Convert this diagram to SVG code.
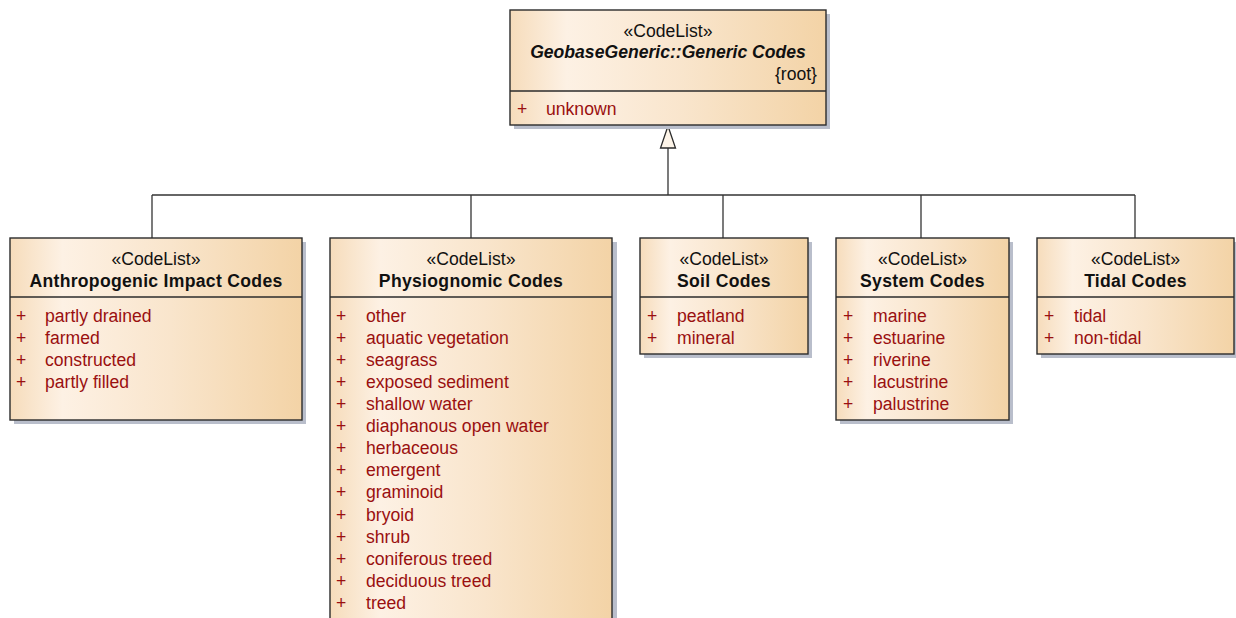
<svg xmlns="http://www.w3.org/2000/svg" width="1236" height="618" viewBox="0 0 1236 618">
<defs>
<linearGradient id="fill" x1="0" y1="0" x2="1" y2="0">
<stop offset="0" stop-color="#f6dcbb"/>
<stop offset="0.18" stop-color="#fdf1e4"/>
<stop offset="0.55" stop-color="#f9e5cc"/>
<stop offset="1" stop-color="#f3d3a6"/>
</linearGradient>
</defs>
<style>
.shadow{fill:#b9becb}
.box{fill:url(#fill);stroke:#2b2b2b;stroke-width:1.4}
.div{stroke:#2b2b2b;stroke-width:1.4}
text{font-family:"Liberation Sans",Arial,sans-serif;font-size:17.6px}
.st{text-anchor:middle;fill:#111}
.nm{text-anchor:middle;font-weight:bold;fill:#111;letter-spacing:0.3px}
.ti{text-anchor:middle;font-weight:bold;font-style:italic;fill:#111}
.it{fill:#9a1010}
.conn{stroke:#333;stroke-width:1.3;fill:none}
</style>
<rect width="1236" height="618" fill="#ffffff"/>

<g id="connectors">
<polyline class="conn" points="668,148 668,195"/>
<polyline class="conn" points="152,195 1135,195"/>
<polyline class="conn" points="152,195 152,238"/>
<polyline class="conn" points="471,195 471,238"/>
<polyline class="conn" points="723,195 723,238"/>
<polyline class="conn" points="921,195 921,238"/>
<polyline class="conn" points="1135,195 1135,238"/>
<polygon points="668,126 660.5,148 675.5,148" fill="#fdf4e8" stroke="#2b2b2b" stroke-width="1.3"/>
</g>

<g id="generic">
<rect class="shadow" x="514" y="14" width="316" height="115"/>
<rect class="box" x="510" y="10" width="316" height="115"/>
<line class="div" x1="510" y1="91" x2="826" y2="91"/>
<text class="st" x="668" y="37">«CodeList»</text>
<text class="ti" x="668" y="58">GeobaseGeneric::Generic Codes</text>
<text x="817" y="80" text-anchor="end" fill="#111">{root}</text>
<text class="it" x="517" y="115">+</text>
<text class="it" x="546" y="115">unknown</text>
</g>

<g id="anthropogenic">
<rect class="shadow" x="14" y="242" width="292" height="182"/>
<rect class="box" x="10" y="238" width="292" height="182"/>
<line class="div" x1="10" y1="297" x2="302" y2="297"/>
<text class="st" x="156" y="265">«CodeList»</text>
<text class="nm" x="156" y="287">Anthropogenic Impact Codes</text>
<text class="it" x="16" y="322">+</text><text class="it" x="45" y="322">partly drained</text>
<text class="it" x="16" y="344">+</text><text class="it" x="45" y="344">farmed</text>
<text class="it" x="16" y="366">+</text><text class="it" x="45" y="366">constructed</text>
<text class="it" x="16" y="388">+</text><text class="it" x="45" y="388">partly filled</text>
</g>

<g id="physiognomic">
<rect class="shadow" x="334" y="242" width="283" height="400"/>
<rect class="box" x="330" y="238" width="282" height="400"/>
<line class="div" x1="330" y1="297" x2="612" y2="297"/>
<text class="st" x="471" y="265">«CodeList»</text>
<text class="nm" x="471" y="287">Physiognomic Codes</text>
<text class="it" x="336" y="322">+</text><text class="it" x="366" y="322">other</text>
<text class="it" x="336" y="344">+</text><text class="it" x="366" y="344">aquatic vegetation</text>
<text class="it" x="336" y="366">+</text><text class="it" x="366" y="366">seagrass</text>
<text class="it" x="336" y="388">+</text><text class="it" x="366" y="388">exposed sediment</text>
<text class="it" x="336" y="410">+</text><text class="it" x="366" y="410">shallow water</text>
<text class="it" x="336" y="432">+</text><text class="it" x="366" y="432">diaphanous open water</text>
<text class="it" x="336" y="454">+</text><text class="it" x="366" y="454">herbaceous</text>
<text class="it" x="336" y="476">+</text><text class="it" x="366" y="476">emergent</text>
<text class="it" x="336" y="498">+</text><text class="it" x="366" y="498">graminoid</text>
<text class="it" x="336" y="521">+</text><text class="it" x="366" y="521">bryoid</text>
<text class="it" x="336" y="543">+</text><text class="it" x="366" y="543">shrub</text>
<text class="it" x="336" y="565">+</text><text class="it" x="366" y="565">coniferous treed</text>
<text class="it" x="336" y="587">+</text><text class="it" x="366" y="587">deciduous treed</text>
<text class="it" x="336" y="609">+</text><text class="it" x="366" y="609">treed</text>
</g>

<g id="soil">
<rect class="shadow" x="644" y="242" width="168" height="116"/>
<rect class="box" x="640" y="238" width="168" height="116"/>
<line class="div" x1="640" y1="297" x2="808" y2="297"/>
<text class="st" x="724" y="265">«CodeList»</text>
<text class="nm" x="724" y="287">Soil Codes</text>
<text class="it" x="647" y="322">+</text><text class="it" x="677" y="322">peatland</text>
<text class="it" x="647" y="344">+</text><text class="it" x="677" y="344">mineral</text>
</g>

<g id="system">
<rect class="shadow" x="840" y="242" width="173" height="182"/>
<rect class="box" x="836" y="238" width="173" height="182"/>
<line class="div" x1="836" y1="297" x2="1009" y2="297"/>
<text class="st" x="922.5" y="265">«CodeList»</text>
<text class="nm" x="922.5" y="287">System Codes</text>
<text class="it" x="843" y="322">+</text><text class="it" x="873" y="322">marine</text>
<text class="it" x="843" y="344">+</text><text class="it" x="873" y="344">estuarine</text>
<text class="it" x="843" y="366">+</text><text class="it" x="873" y="366">riverine</text>
<text class="it" x="843" y="388">+</text><text class="it" x="873" y="388">lacustrine</text>
<text class="it" x="843" y="410">+</text><text class="it" x="873" y="410">palustrine</text>
</g>

<g id="tidal">
<rect class="shadow" x="1041" y="242" width="198" height="116"/>
<rect class="box" x="1037" y="238" width="197" height="116"/>
<line class="div" x1="1037" y1="297" x2="1234" y2="297"/>
<text class="st" x="1135.5" y="265">«CodeList»</text>
<text class="nm" x="1135.5" y="287">Tidal Codes</text>
<text class="it" x="1044" y="322">+</text><text class="it" x="1074" y="322">tidal</text>
<text class="it" x="1044" y="344">+</text><text class="it" x="1074" y="344">non-tidal</text>
</g>
</svg>
